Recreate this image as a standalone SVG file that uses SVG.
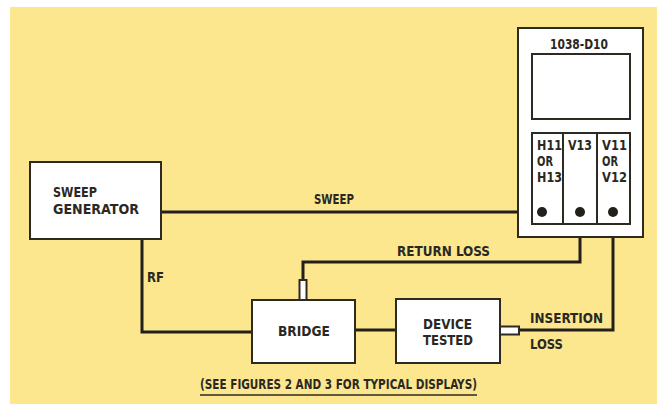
<svg xmlns="http://www.w3.org/2000/svg" width="657" height="404" viewBox="0 0 657 404">
<style>
.bg{fill:#ffffff}
.panel{fill:#fce78f}
.box{fill:#ffffff;stroke:#2e2a22;stroke-width:2}
.wire{fill:none;stroke:#231f1a;stroke-width:3;stroke-linejoin:miter}
.dot{fill:#231f1a}
.t{font-family:"Liberation Sans Narrow","DejaVu Sans Condensed","Liberation Sans",sans-serif;font-weight:bold;fill:#2b2823;font-size:14px}
</style>
<rect class="bg" x="0" y="0" width="657" height="404"/>
<rect class="panel" x="10" y="7" width="647" height="397"/>

<g id="connectors">
  <polyline class="wire" points="161,212 542,212"/>
  <polyline class="wire" points="142,239 142,332 252,332"/>
  <polyline class="wire" points="355,330 396,330"/>
  <polyline class="wire" points="303,281 303,262 580,262 580,212"/>
  <polyline class="wire" points="519,330 613,330 613,212"/>
  <rect class="box" x="299.5" y="280" width="7" height="20" stroke-width="1.5"/>
  <rect class="box" x="500" y="326.5" width="19" height="8" stroke-width="1.5"/>
  <text class="t" x="314" y="204" textLength="40" lengthAdjust="spacingAndGlyphs">SWEEP</text>
  <text class="t" x="147" y="282" textLength="17" lengthAdjust="spacingAndGlyphs">RF</text>
  <text class="t" x="397" y="256" textLength="93" lengthAdjust="spacingAndGlyphs">RETURN LOSS</text>
  <text class="t" x="530" y="323" textLength="73" lengthAdjust="spacingAndGlyphs">INSERTION</text>
  <text class="t" x="530" y="349" textLength="33" lengthAdjust="spacingAndGlyphs">LOSS</text>
</g>

<g id="sweep-generator">
  <rect class="box" x="30" y="162" width="131" height="77"/>
  <text class="t" x="53" y="197" font-size="15" textLength="44" lengthAdjust="spacingAndGlyphs">SWEEP</text>
  <text class="t" x="53" y="214" font-size="15" textLength="86" lengthAdjust="spacingAndGlyphs">GENERATOR</text>
</g>

<g id="bridge">
  <rect class="box" x="252" y="300" width="103" height="63"/>
  <text class="t" x="278" y="336" font-size="14.5" textLength="52" lengthAdjust="spacingAndGlyphs">BRIDGE</text>
</g>

<g id="device-tested">
  <rect class="box" x="396" y="299" width="104" height="64"/>
  <text class="t" x="423" y="329" textLength="49" lengthAdjust="spacingAndGlyphs">DEVICE</text>
  <text class="t" x="423" y="345" textLength="50" lengthAdjust="spacingAndGlyphs">TESTED</text>
</g>

<g id="oscilloscope">
  <rect class="box" x="518" y="28" width="125" height="209"/>
  <text class="t" x="550" y="49" font-size="14" textLength="58" lengthAdjust="spacingAndGlyphs">1038-D10</text>
  <rect class="box" x="532" y="54" width="98" height="65"/>
  <rect class="box" x="532" y="133" width="98" height="91"/>
  <line x1="563" y1="133" x2="563" y2="224" stroke="#2e2a22" stroke-width="2"/>
  <line x1="597" y1="133" x2="597" y2="224" stroke="#2e2a22" stroke-width="2"/>
  <text class="t" x="537" y="150" textLength="25" lengthAdjust="spacingAndGlyphs">H11</text>
  <text class="t" x="537" y="166" textLength="16" lengthAdjust="spacingAndGlyphs">OR</text>
  <text class="t" x="537" y="182" textLength="25" lengthAdjust="spacingAndGlyphs">H13</text>
  <text class="t" x="568" y="150" textLength="24" lengthAdjust="spacingAndGlyphs">V13</text>
  <text class="t" x="602" y="150" textLength="25" lengthAdjust="spacingAndGlyphs">V11</text>
  <text class="t" x="602" y="166" textLength="16" lengthAdjust="spacingAndGlyphs">OR</text>
  <text class="t" x="602" y="182" textLength="25" lengthAdjust="spacingAndGlyphs">V12</text>
  <circle class="dot" cx="542" cy="212" r="5"/>
  <circle class="dot" cx="580" cy="212" r="5"/>
  <circle class="dot" cx="613" cy="212" r="5"/>
</g>

<g id="footnote">
  <text class="t" x="200" y="389" font-size="13" textLength="277" lengthAdjust="spacingAndGlyphs">(SEE FIGURES 2 AND 3 FOR TYPICAL DISPLAYS)</text>
  <line x1="200" y1="395" x2="477" y2="395" stroke="#2b2823" stroke-width="1.5"/>
</g>
</svg>
